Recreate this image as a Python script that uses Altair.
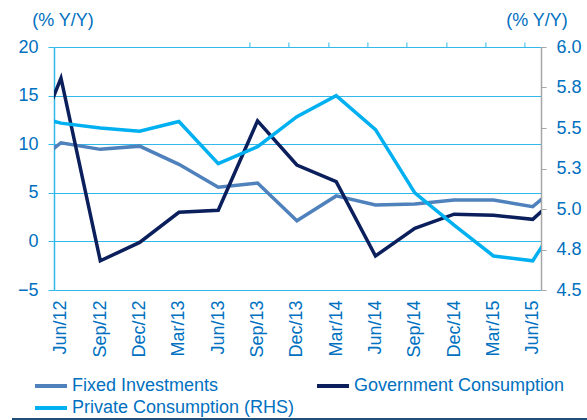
import json
import altair as alt
import pandas as pd

# Quarter labels shown on the axis (index 0..12); extra clipped points at -1 and 13
quarters = ["Jun/12", "Sep/12", "Dec/12", "Mar/13", "Jun/13", "Sep/13", "Dec/13",
            "Mar/14", "Jun/14", "Sep/14", "Dec/14", "Mar/15", "Jun/15"]
idx = list(range(-1, 14))  # Mar/12 (clipped) ... Sep/15 (clipped)

fixed_investments = [7.0, 10.15, 9.47, 9.8, 7.93, 5.57, 6.0, 2.13, 4.68, 3.74, 3.85, 4.26, 4.26, 3.57, 7.0]
government_consumption = [6.7, 16.8, -2.0, -0.1, 3.0, 3.2, 12.4, 7.86, 6.14, -1.5, 1.35, 2.8, 2.7, 2.27, 5.9]
private_consumption_rhs = [5.59, 5.53, 5.50, 5.48, 5.54, 5.28, 5.385, 5.57, 5.70, 5.49, 5.10, 4.90, 4.71, 4.68, 5.06]

S_FI = "Fixed Investments"
S_GC = "Government Consumption"
S_PC = "Private Consumption (RHS)"

left_df = pd.DataFrame(
    {"idx": idx * 2,
     "series": [S_FI] * len(idx) + [S_GC] * len(idx),
     "value": fixed_investments + government_consumption})
right_df = pd.DataFrame({"idx": idx, "series": [S_PC] * len(idx), "value": private_consumption_rhs})

BLUE_TXT = "#0070c0"
GRID = "#33b8ea"
FONT = "Liberation Sans"

xscale = alt.Scale(domain=[-0.178, 12.21], nice=False, zero=False)
color = alt.Color(
    "series:N",
    scale=alt.Scale(domain=[S_FI, S_GC, S_PC], range=["#4f81bd", "#0b1f5c", "#00b0f0"]),
    legend=alt.Legend(orient="none", legendX=-13, legendY=329, columns=2, columnPadding=14,
                      direction="horizontal", rowPadding=3,
                      symbolType="M-2,0H2", symbolSize=256, symbolStrokeWidth=4,
                      labelOffset=11, labelFontSize=18, labelColor=BLUE_TXT, labelFont=FONT,
                      title=None, padding=0, labelLimit=400),
)

label_expr = json.dumps(quarters) + "[datum.value]"

left = alt.Chart(left_df).mark_line(clip=True, strokeWidth=3.5).encode(
    x=alt.X("idx:Q", scale=xscale,
            axis=alt.Axis(values=list(range(13)), labelExpr=label_expr, labelAngle=-90,
                          labelFontSize=18, labelColor=BLUE_TXT, labelPadding=10,
                          ticks=False, domain=False, grid=False, title=None)),
    y=alt.Y("value:Q", scale=alt.Scale(domain=[-5, 20], nice=False),
            axis=alt.Axis(values=[-5, 0, 5, 10, 15, 20], grid=True, gridColor=GRID, gridWidth=1,
                          domainColor=GRID, domainWidth=1.5, tickColor=GRID, tickSize=6,
                          labelFontSize=18, labelColor=BLUE_TXT, labelPadding=10,
                          title="(% Y/Y)", titleAngle=0, titleAlign="center", titleX=8.5,
                          titleY=-21.5, titleBaseline="alphabetic", titleFontSize=18,
                          titleFontWeight="normal", titleColor=BLUE_TXT)),
    color=color,
    order="idx:Q",
)

right = alt.Chart(right_df).mark_line(clip=True, strokeWidth=3.5).encode(
    x=alt.X("idx:Q", scale=xscale,
            axis=alt.Axis(values=list(range(13)), labels=False, domain=False, grid=False,
                          ticks=True, tickSize=5, tickColor=GRID, tickOffset=-6,
                          position=194.4, title=None)),
    y=alt.Y("value:Q", scale=alt.Scale(domain=[4.5, 6.0], nice=False, zero=False),
            axis=alt.Axis(orient="right", values=[4.5, 4.75, 5.0, 5.25, 5.5, 5.75, 6.0],
                          format=".1f", grid=False, domainColor="#a6a6a6", domainWidth=1.5,
                          tickColor="#a6a6a6", tickSize=5, labelFontSize=18,
                          labelColor=BLUE_TXT, labelPadding=10,
                          title="(% Y/Y)", titleAngle=0, titleAlign="center", titleX=-4.5,
                          titleY=-21.5, titleBaseline="alphabetic", titleFontSize=18,
                          titleFontWeight="normal", titleColor=BLUE_TXT)),
    color=color,
    order="idx:Q",
)

bottom_rule = alt.Chart(pd.DataFrame({"a": [0]})).mark_rule(color="#1f4e79", strokeWidth=2).encode(
    x=alt.value(-42), x2=alt.value(533), y=alt.value(372))

chart = alt.layer(left, right, bottom_rule).resolve_scale(y="independent").resolve_axis(
    x="independent").properties(
    width=487, height=243,
    autosize=alt.AutoSizeParams(type="none"),
    padding={"left": 54, "top": 47, "right": 46, "bottom": 130},
).configure(font=FONT).configure_view(strokeWidth=0)

chart.save("out.html", embed_options={"renderer": "svg", "actions": False})
